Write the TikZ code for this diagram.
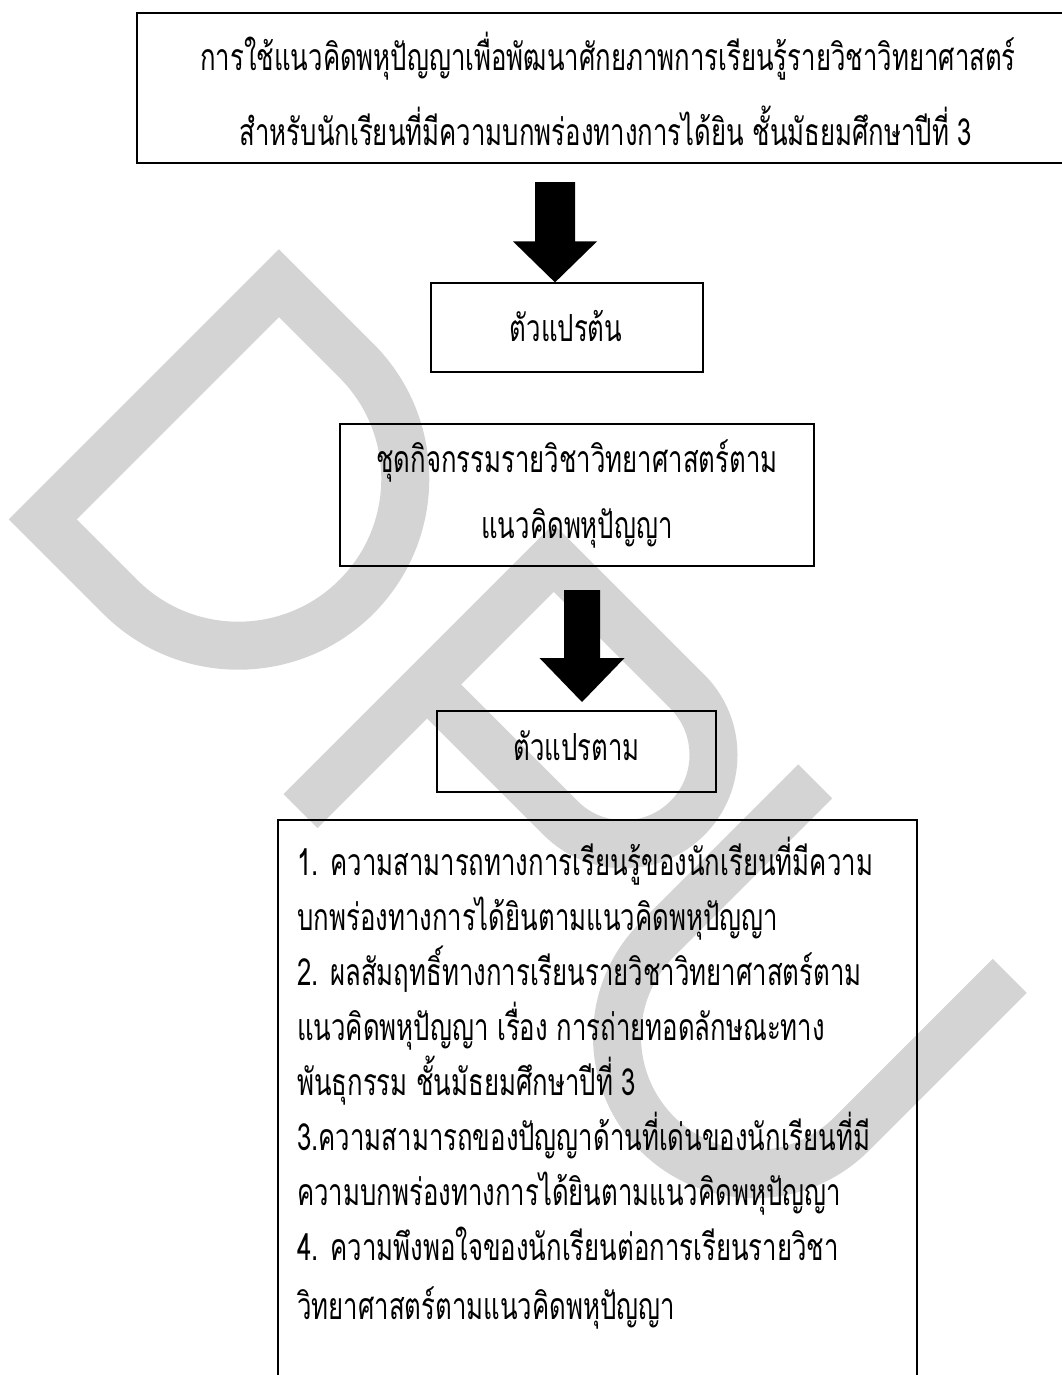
\documentclass[tikz,border=0pt]{standalone}
\usepackage{fontspec}
\newfontfamily\thai[Script=Thai,FakeStretch=0.69]{Loma}
\usetikzlibrary{calc}
\definecolor{wm}{RGB}{212,212,212}
\begin{document}
\begin{tikzpicture}[x=0.75pt,y=-0.75pt,
  box/.style={draw=black,line width=0.9pt,inner sep=0pt},
  txt/.style={font=\thai\fontsize{28}{34}\selectfont,inner sep=0pt,anchor=base},
  txtl/.style={txt,anchor=base west},
  wmline/.style={draw=wm,line width=36pt,line join=miter,line cap=butt}]
\useasboundingbox (0,0) rectangle (1062,1375);

% watermark (letters drawn in a rotated frame)
\begin{scope}[x={(0.53033pt,-0.53033pt)},y={(0.53033pt,0.53033pt)}]
  % D
  \draw[wmline] (397.5,-337) -- (397.5,-3) -- (507,-3)
     .. controls (599.2,-3) and (674,-77.8) .. (674,-170)
     .. controls (674,-262.2) and (599.2,-337) .. (507,-337) -- cycle;
  % P
  \draw[wmline] (786,-361) -- (786,-3) -- (975,-3)
     .. controls (1024.4,-3) and (1064.5,-43.1) .. (1064.5,-92.5)
     .. controls (1064.5,-141.9) and (1024.4,-182) .. (975,-182) -- (786,-182);
  % U
  \draw[wmline] (1129,24) -- (1129,-199.5)
     .. controls (1129,-275.4) and (1190.6,-337) .. (1266.5,-337)
     .. controls (1342.4,-337) and (1404,-275.4) .. (1404,-199.5) -- (1404,24);
\end{scope}

% boxes
\node[box,minimum width=722.25pt,minimum height=112.5pt] (top) at (618.5,88) {};
\node[box,minimum width=204pt,minimum height=66.75pt] (iv) at (567,327.5) {};
\node[box,minimum width=355.5pt,minimum height=106.5pt] (act) at (577,495) {};
\node[box,minimum width=209.25pt,minimum height=60.75pt] (dv) at (576.5,751.5) {};
\node[box,minimum width=479.25pt,minimum height=450pt] (list) at (597.5,1120) {};

% texts
\node[txt] (t1) at (608,70) {การใช้แนวคิดพหุปัญญาเพื่อพัฒนาศักยภาพการเรียนรู้รายวิชาวิทยาศาสตร์};
\node[txt] (t2) at (606,145) {สำหรับนักเรียนที่มีความบกพร่องทางการได้ยิน ชั้นมัธยมศึกษาปีที่ 3};
\node[txt] (ivt) at (566,341) {ตัวแปรต้น};
\node[txt] (a1t) at (577,472) {ชุดกิจกรรมรายวิชาวิทยาศาสตร์ตาม};
\node[txt] (a2t) at (577,538) {แนวคิดพหุปัญญา};
\node[txt] (dvt) at (576.5,760) {ตัวแปรตาม};
\node[txtl] (l1) at (297,875) {1. ความสามารถทางการเรียนรู้ของนักเรียนที่มีความ};
\node[txtl] (l2) at (297,930) {บกพร่องทางการได้ยินตามแนวคิดพหุปัญญา};
\node[txtl] (l3) at (297,985) {2. ผลสัมฤทธิ์ทางการเรียนรายวิชาวิทยาศาสตร์ตาม};
\node[txtl] (l4) at (297,1040) {แนวคิดพหุปัญญา เรื่อง การถ่ายทอดลักษณะทาง};
\node[txtl] (l5) at (297,1095) {พันธุกรรม ชั้นมัธยมศึกษาปีที่ 3};
\node[txtl] (l6) at (297,1150) {3.ความสามารถของปัญญาด้านที่เด่นของนักเรียนที่มี};
\node[txtl] (l7) at (297,1205) {ความบกพร่องทางการได้ยินตามแนวคิดพหุปัญญา};
\node[txtl] (l8) at (297,1260) {4. ความพึงพอใจของนักเรียนต่อการเรียนรายวิชา};
\node[txtl] (l9) at (297,1319) {วิทยาศาสตร์ตามแนวคิดพหุปัญญา};

% block arrows
\coordinate (ar1s) at (555,182);
\coordinate (ar1e) at (ar1s |- iv.north);
\fill ($(ar1s)+(-20,0)$) -- ($(ar1s)+(20,0)$) -- ($(ar1e)+(20,-41)$) -- ($(ar1e)+(42,-41)$)
  -- (ar1e) -- ($(ar1e)+(-42,-41)$) -- ($(ar1e)+(-20,-41)$) -- cycle;
\coordinate (ar2s) at (582,590);
\coordinate (ar2e) at (582,702);
\fill ($(ar2s)+(-18,0)$) -- ($(ar2s)+(18,0)$) -- ($(ar2e)+(18,-44)$) -- ($(ar2e)+(42.5,-44)$)
  -- (ar2e) -- ($(ar2e)+(-42.5,-44)$) -- ($(ar2e)+(-18,-44)$) -- cycle;
\end{tikzpicture}
\end{document}
